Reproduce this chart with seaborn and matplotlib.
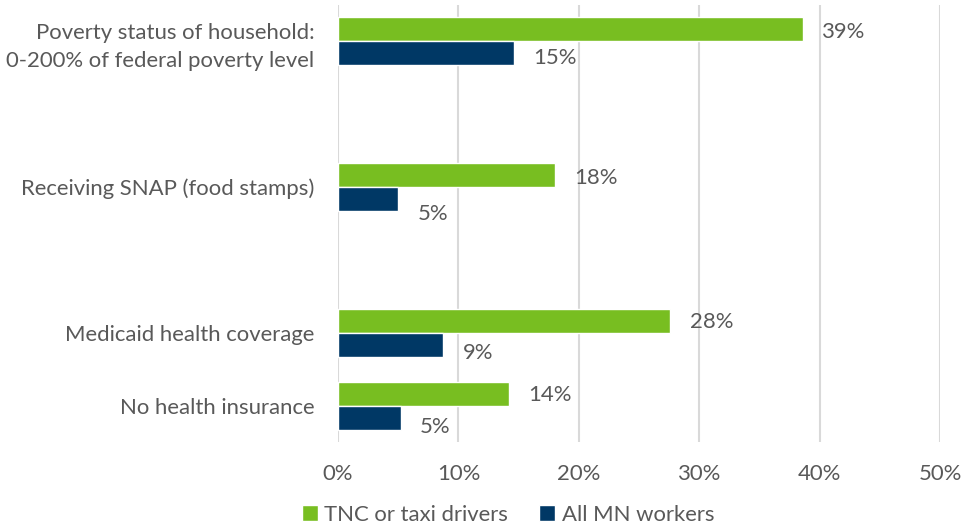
import matplotlib
matplotlib.use("Agg")
import matplotlib.pyplot as plt
import matplotlib.ticker as mticker
from matplotlib.patches import Patch
import seaborn as sns
import pandas as pd

# Benefit / coverage indicators, top to bottom
categories = [
    "Poverty status of household:\n0-200% of federal poverty level",
    "Receiving SNAP (food stamps)",
    "Medicaid health coverage",
    "No health insurance",
]
tnc_drivers = [38.6, 18.0, 27.6, 14.2]
all_mn_workers = [14.6, 5.0, 8.75, 5.2]
series_names = ["TNC or taxi drivers", "All MN workers"]
x_ticks = [0, 10, 20, 30, 40, 50]

# empty rows that keep the wider gaps between groups
spacer_a, spacer_b = "\u200b", "\u200b\u200b"
row_order = [categories[0], spacer_a, categories[1], spacer_b, categories[2], categories[3]]

GREEN = "#78BE21"
NAVY = "#003865"
TEXT = "#595959"
GRID = "#D9D9D9"
FS = 15.9

df = pd.DataFrame({
    "category": categories * 2,
    "series": [series_names[0]] * len(categories) + [series_names[1]] * len(categories),
    "value": tnc_drivers + all_mn_workers,
})

sns.set_theme(style="white")
plt.rcParams["font.family"] = ["Lato", "DejaVu Sans"]

fig = plt.figure(figsize=(9.64, 5.29), dpi=100)
ax = fig.add_axes([338 / 964, 1 - 442 / 529, (940 - 338) / 964, (442 - 5) / 529])

sns.barplot(
    data=df, y="category", x="value", hue="series",
    order=row_order, hue_order=series_names,
    palette=[GREEN, NAVY], orient="h", width=0.66,
    errorbar=None, legend=False, ax=ax, saturation=1,
)

# value labels; the lower series' labels sit a little below their bars
drops = [[-2, -2, -1, -1], [-3, -11, -6, -7]]
for container, drop in zip(ax.containers, drops):
    anns = ax.bar_label(container, labels=[f"{v:.0f}%" for v in container.datavalues],
                        padding=14, fontsize=FS, color=TEXT)
    for ann, d in zip(anns, drop):
        x0, _ = ann.xyann
        ann.xyann = (x0, d)

ax.set_xlim(0, 50)
ax.set_xticks(x_ticks)
ax.xaxis.set_major_formatter(mticker.FuncFormatter(lambda v, _: f"{v:.0f}%"))
ax.set_yticks(range(len(row_order)))
ax.set_yticklabels([c if c in categories else "" for c in row_order])
ax.tick_params(axis="y", length=0, pad=17, labelsize=FS, labelcolor=TEXT)
ax.tick_params(axis="x", length=0, pad=16, labelsize=FS, labelcolor=TEXT)
for lbl in ax.get_yticklabels():
    lbl.set_linespacing(1.5)
ax.set_xlabel("")
ax.set_ylabel("")

ax.grid(axis="x", color=GRID, linewidth=1.5)
ax.grid(axis="y", visible=False)
ax.set_axisbelow(True)
for side in ["top", "right", "bottom", "left"]:
    ax.spines[side].set_visible(False)

handles = [Patch(facecolor=GREEN), Patch(facecolor=NAVY)]
fig.legend(handles, series_names, loc="center", bbox_to_anchor=(508 / 964, 1 - 515 / 529),
           ncol=2, frameon=False, fontsize=FS, labelcolor=TEXT,
           handlelength=0.72, handleheight=0.72, handletextpad=0.3, columnspacing=1.4)

fig.savefig("out.png", dpi=100)
